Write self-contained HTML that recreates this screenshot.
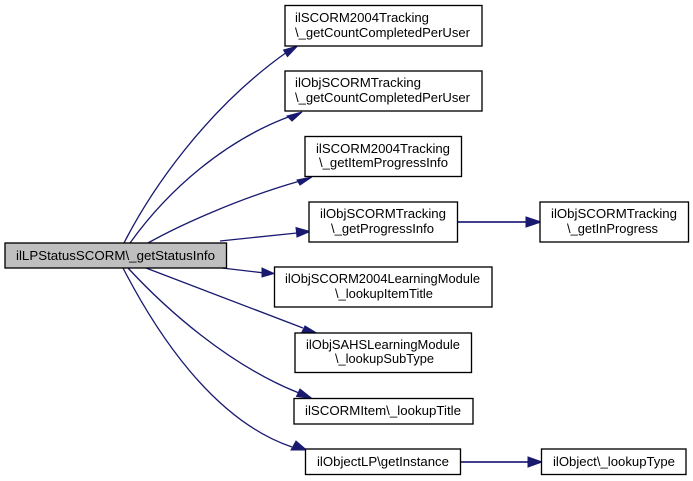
<!DOCTYPE html>
<html>
<head>
<meta charset="utf-8">
<style>
html,body{margin:0;padding:0;background:#fff;}
svg{display:block;filter:blur(.3px);}
text{font-family:"Liberation Sans",sans-serif;font-size:13.33px;fill:#000;text-anchor:start;}
rect{fill:#fff;stroke:#000;stroke-width:1.33;}
path.e{fill:none;stroke:#191970;stroke-width:1.33;}
path.s{fill:none;stroke:#40408c;stroke-width:2;}
polygon{fill:#191970;stroke:#191970;stroke-width:1;}
</style>
</head>
<body>
<svg width="693" height="481" viewBox="0 0 693 481" xmlns="http://www.w3.org/2000/svg">
<path class="e" d="M124,243 C150,192 205,110 287,52"/>
<polygon points="297.5,46 283.5,50 287.5,56.5"/>
<path class="e" d="M130,243 C168,190 225,140 291,116"/>
<polygon points="302,112 287,116 292,121"/>
<path class="e" d="M148,243 C180,225 240,198 300,181"/>
<polygon points="312,177 297,180 300,185"/>
<path class="e" d="M220,241 L297,233"/>
<polygon points="310,231.5 296,227.5 297,237"/>
<path class="e" d="M222,268 L262,272.7"/>
<polygon points="274,273.5 262,268 262,277"/>
<path class="e" d="M146,268 L303,328"/>
<polygon points="315,332 305,326 302,332"/>
<path class="e" d="M128,268 C165,308 228,365 299,393"/>
<polygon points="312,398.5 300,389 296.5,396.5"/>
<path class="e" d="M123,268 C155,330 212,420 292,447"/>
<polygon points="306.5,450 296,441 291,450"/>
<path class="s" d="M457,222 L527,222"/>
<polygon points="541,222 526,217 526,227"/>
<path class="s" d="M461,462 L528,462"/>
<polygon points="542,462 528,457 528,467"/>

<rect x="5" y="243" width="221.5" height="25" style="fill:#bfbfbf"/>
<text x="16" y="260" textLength="199" lengthAdjust="spacingAndGlyphs">ilLPStatusSCORM\_getStatusInfo</text>

<rect x="285" y="5.5" width="197" height="40.5"/>
<text x="295" y="22" textLength="134" lengthAdjust="spacingAndGlyphs">ilSCORM2004Tracking</text>
<text x="295" y="37" textLength="175" lengthAdjust="spacingAndGlyphs">\_getCountCompletedPerUser</text>

<rect x="285" y="71" width="197" height="40"/>
<text x="295" y="87" textLength="126" lengthAdjust="spacingAndGlyphs">ilObjSCORMTracking</text>
<text x="295" y="102" textLength="175" lengthAdjust="spacingAndGlyphs">\_getCountCompletedPerUser</text>

<rect x="305" y="136.5" width="156.5" height="40"/>
<text x="316" y="153" textLength="134" lengthAdjust="spacingAndGlyphs">ilSCORM2004Tracking</text>
<text x="319" y="167" textLength="129" lengthAdjust="spacingAndGlyphs">\_getItemProgressInfo</text>

<rect x="309" y="202" width="148.5" height="40"/>
<text x="320" y="218" textLength="126" lengthAdjust="spacingAndGlyphs">ilObjSCORMTracking</text>
<text x="331" y="233" textLength="103" lengthAdjust="spacingAndGlyphs">\_getProgressInfo</text>

<rect x="540" y="202" width="148.5" height="40"/>
<text x="551" y="218" textLength="126" lengthAdjust="spacingAndGlyphs">ilObjSCORMTracking</text>
<text x="567" y="233" textLength="91" lengthAdjust="spacingAndGlyphs">\_getInProgress</text>

<rect x="274.5" y="267" width="217.5" height="40"/>
<text x="285" y="283" textLength="195" lengthAdjust="spacingAndGlyphs">ilObjSCORM2004LearningModule</text>
<text x="335" y="298" textLength="98" lengthAdjust="spacingAndGlyphs">\_lookupItemTitle</text>

<rect x="295" y="333" width="176.5" height="39.5"/>
<text x="306" y="349" textLength="154" lengthAdjust="spacingAndGlyphs">ilObjSAHSLearningModule</text>
<text x="335" y="363" textLength="99" lengthAdjust="spacingAndGlyphs">\_lookupSubType</text>

<rect x="294" y="398.5" width="179" height="25.5"/>
<text x="305" y="415" textLength="156" lengthAdjust="spacingAndGlyphs">ilSCORMItem\_lookupTitle</text>

<rect x="305.5" y="449" width="155" height="25.5"/>
<text x="317" y="466" textLength="132" lengthAdjust="spacingAndGlyphs">ilObjectLP\getInstance</text>

<rect x="541.5" y="449" width="144.5" height="25.5"/>
<text x="553" y="466" textLength="122" lengthAdjust="spacingAndGlyphs">ilObject\_lookupType</text>
</svg>
</body>
</html>
